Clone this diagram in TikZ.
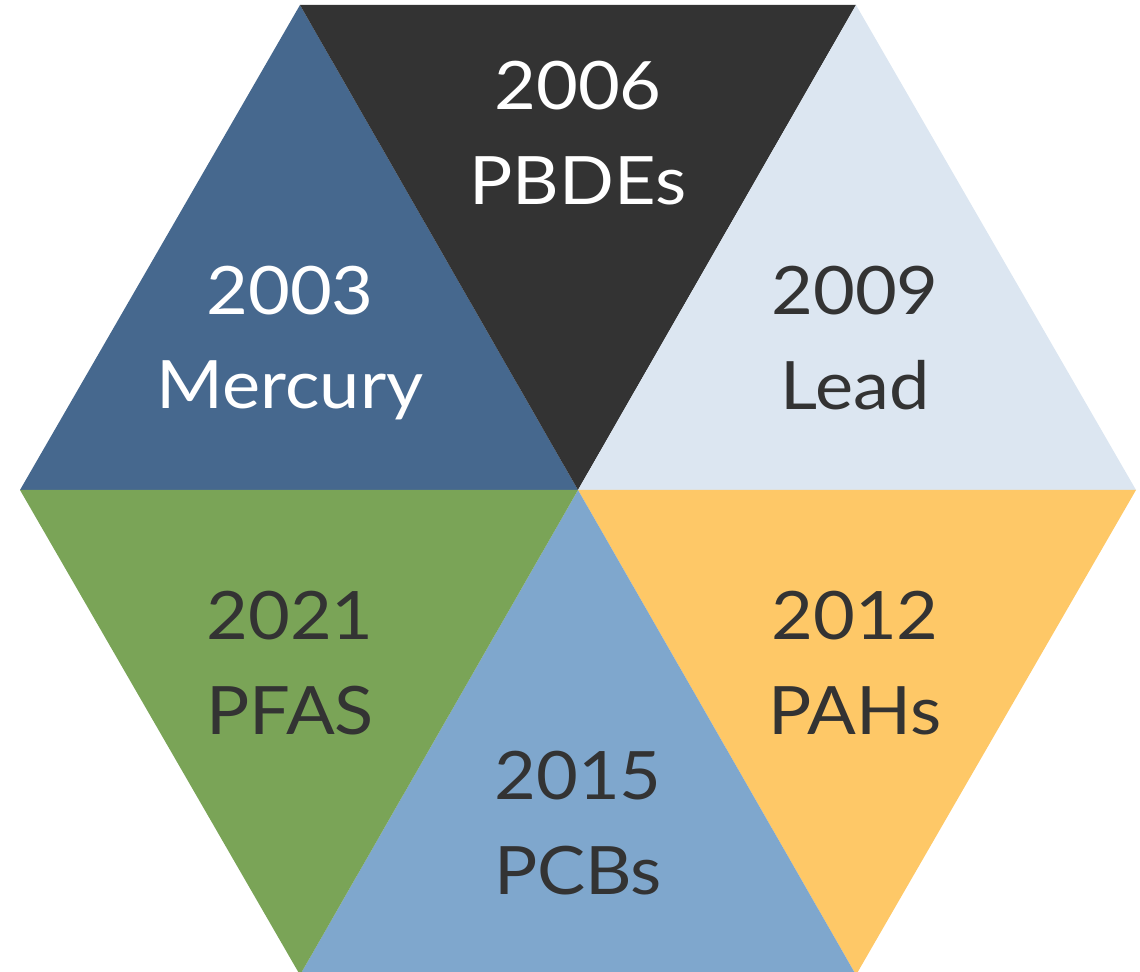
\documentclass[tikz,border=0pt]{standalone}
\usepackage{fontspec}
\setmainfont{Lato}[FakeStretch=1.08]
\definecolor{steel}{HTML}{46688E}
\definecolor{charcoal}{HTML}{333333}
\definecolor{pale}{HTML}{DCE6F1}
\definecolor{amber}{HTML}{FEC867}
\definecolor{sky}{HTML}{7FA7CD}
\definecolor{leaf}{HTML}{7AA457}
\tikzset{
	yr/.style = {anchor=base, font=\fontsize{38}{44}\selectfont},
	onlight/.style = {text=charcoal},
	ondark/.style = {text=white}
}
\begin{document}
\begin{tikzpicture}[x=0.02cm, y=-0.02cm]
		\useasboundingbox (0, 0) rectangle (1140, 972);
		\clip (0, 0) rectangle (1140, 972);
		\coordinate (c) at (578, 490);
		\coordinate (l) at (20, 490);
		\coordinate (tl) at (300, 5);
		\coordinate (tr) at (856, 5);
		\coordinate (r) at (1136, 490);
		\coordinate (br) at (856, 975);
		\coordinate (bl) at (300, 975);
		\fill[steel] (c) -- (l) -- (tl) -- cycle;
		\fill[charcoal] (c) -- (tl) -- (tr) -- cycle;
		\fill[pale] (c) -- (tr) -- (r) -- cycle;
		\fill[amber] (c) -- (r) -- (br) -- cycle;
		\fill[sky] (c) -- (br) -- (bl) -- cycle;
		\fill[leaf] (c) -- (bl) -- (l) -- cycle;
		% labels
		\node[yr, ondark] (y2006) at (578, 110) {2006};
		\node[yr, ondark] (pbde) at (578, 205) {PBDEs};
		\node[yr, ondark] (y2003) at (290, 315) {2003};
		\node[yr, ondark] (hg) at (290, 409) {Mercury};
		\node[yr, onlight] (y2009) at (855, 315) {2009};
		\node[yr, onlight] (pb) at (855, 410) {Lead};
		\node[yr, onlight] (y2021) at (290, 640) {2021};
		\node[yr, onlight] (pfas) at (290, 735) {PFAS};
		\node[yr, onlight] (y2012) at (855, 640) {2012};
		\node[yr, onlight] (pah) at (855, 735) {PAHs};
		\node[yr, onlight] (y2015) at (578, 800) {2015};
		\node[yr, onlight] (pcb) at (578, 895) {PCBs};
	\end{tikzpicture}
\end{document}
